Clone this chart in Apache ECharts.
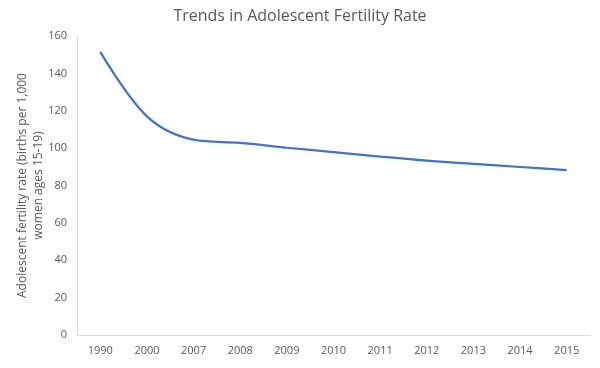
<!DOCTYPE html>
<html><head><meta charset="utf-8">
<script src="https://cdn.jsdelivr.net/npm/echarts@6/dist/echarts.min.js"></script>
<style>html,body{margin:0;padding:0;background:#fff}#c{width:600px;height:368px}</style>
</head><body><div id="c"></div>
<script>
const title = "Trends in Adolescent Fertility Rate";
const yAxisTitle = "Adolescent fertility rate (births per 1,000\nwomen ages 15-19)";
const years = ["1990","2000","2007","2008","2009","2010","2011","2012","2013","2014","2015"];
const fertilityRate = [151.5, 117, 104.5, 102.8, 100.2, 97.9, 95.5, 93.3, 91.6, 89.9, 88.2];
const chart = echarts.init(document.getElementById('c'), null, {renderer:'canvas'});
const txt = '#595959', fnt = '"Open Sans", "Liberation Sans", sans-serif';
chart.setOption({
  animation:false,
  backgroundColor:'#fff',
  title:{text:title,left:'center',top:3,textStyle:{color:txt,fontSize:16,fontWeight:'normal',fontFamily:fnt}},
  grid:{left:77,right:10,top:36,bottom:33,containLabel:false,outerBoundsMode:'none'},
  xAxis:{type:'category',data:years,boundaryGap:true,
    axisLine:{lineStyle:{color:'#d9d9d9'}},axisTick:{show:false},
    axisLabel:{color:txt,fontSize:11,fontFamily:fnt,margin:10}},
  yAxis:{type:'value',min:0,max:160,interval:20,
    name:yAxisTitle,nameLocation:'middle',nameGap:30,nameMoveOverlap:false,
    nameTextStyle:{color:txt,fontSize:12,fontFamily:fnt,lineHeight:16,align:'center'},
    axisLine:{show:true,lineStyle:{color:'#d9d9d9'}},axisTick:{show:false},splitLine:{show:false},
    axisLabel:{color:txt,fontSize:11,fontFamily:fnt,margin:10}},
  series:[{type:'line',data:fertilityRate,smooth:0.35,showSymbol:false,
    lineStyle:{color:'#4472C4',width:2.25}}]
});
</script></body></html>
